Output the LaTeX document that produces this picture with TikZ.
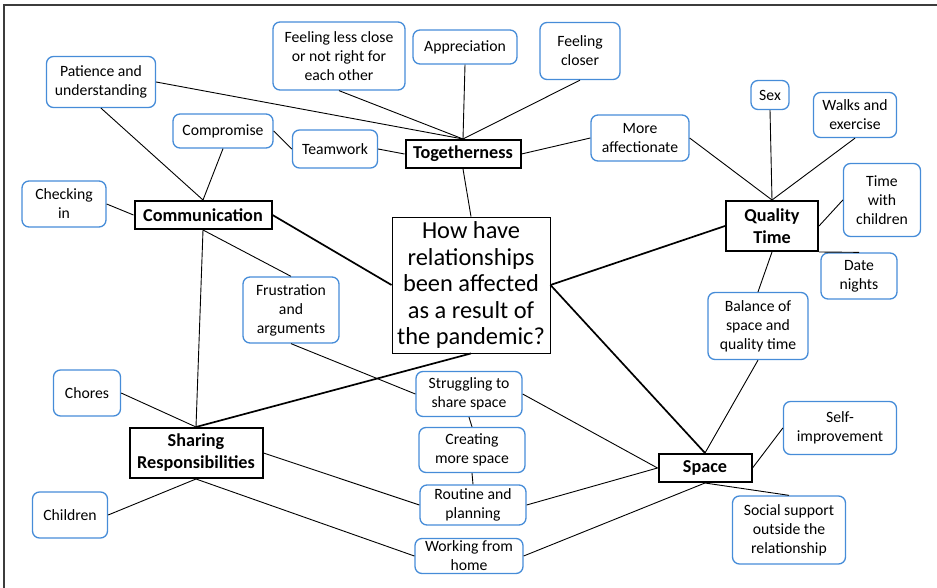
\documentclass[tikz,border=0pt]{standalone}
\usepackage{fontspec}
\setmainfont{Carlito}
\definecolor{boxblue}{RGB}{70,140,216}
\definecolor{framegray}{RGB}{60,60,60}

\begin{document}
\begin{tikzpicture}[x=1pt,y=-1pt,
  idea/.style={draw=boxblue,line width=1.3pt,rounded corners=7pt,align=center,inner sep=0pt,font=\fontsize{15.7}{19}\selectfont},
  theme/.style={draw=black,line width=2pt,align=center,inner sep=0pt,font=\fontsize{18.2}{22}\selectfont\bfseries},
  question/.style={draw=black,line width=0.9pt,align=center,inner sep=0pt,font=\fontsize{24.4}{26.5}\selectfont},
  branch/.style={line width=0.9pt},
  trunk/.style={line width=1.7pt}]
\useasboundingbox (0,0) rectangle (937,588);
\draw[framegray,line width=1.2pt] (937,5) -- (4,5) -- (4,588);

% the question in the middle
\node[question,minimum width=158pt,minimum height=136pt] (question) at (471,285)
  {How have\\relationships\\been affected\\as a result of\\the pandemic?};

% themes
\node[theme,minimum width=115pt,minimum height=28pt] (together) at (463,154) {Togetherness};
\node[theme,minimum width=137pt,minimum height=28pt] (comm) at (203,215) {Communication};
\node[theme,minimum width=92pt,minimum height=50pt] (quality) at (772,226) {Quality\\Time};
\node[theme,minimum width=133pt,minimum height=50pt] (sharing) at (196,453) {Sharing\\Responsibilities};
\node[theme,minimum width=93pt,minimum height=28pt] (space) at (705,468) {Space};

% ideas
\node[idea,minimum width=109pt,minimum height=51pt] (patience) at (101,82) {Patience and\\understanding};
\node[idea,minimum width=132pt,minimum height=68pt] (lessclose) at (339,56) {Feeling less close\\or not right for\\each other};
\node[idea,minimum width=104pt,minimum height=34pt] (appreciation) at (465,47) {Appreciation};
\node[idea,minimum width=80pt,minimum height=57pt] (closer) at (580,51) {Feeling\\closer};
\node[idea,minimum width=100pt,minimum height=34pt] (compromise) at (223,131) {Compromise};
\node[idea,minimum width=85pt,minimum height=38pt] (teamwork) at (335,149) {Teamwork};
\node[idea,minimum width=98pt,minimum height=46pt] (affectionate) at (640,138) {More\\affectionate};
\node[idea,minimum width=38pt,minimum height=29pt] (sex) at (770,95) {Sex};
\node[idea,minimum width=83pt,minimum height=45pt] (walks) at (855,115) {Walks and\\exercise};
\node[idea,minimum width=77pt,minimum height=73pt] (withchildren) at (882,200) {Time\\with\\children};
\node[idea,minimum width=76pt,minimum height=46pt] (datenights) at (859,276) {Date\\nights};
\node[idea,minimum width=84pt,minimum height=46pt] (checking) at (64,204) {Checking\\in};
\node[idea,minimum width=96pt,minimum height=66pt] (frustration) at (291,310) {Frustration\\and\\arguments};
\node[idea,minimum width=100pt,minimum height=67pt] (balance) at (758,326) {Balance of\\space and\\quality time};
\node[idea,minimum width=67pt,minimum height=46pt] (chores) at (87,393) {Chores};
\node[idea,minimum width=75pt,minimum height=46pt] (children) at (70,515) {Children};
\node[idea,minimum width=106pt,minimum height=45pt] (struggling) at (469,394) {Struggling to\\share space};
\node[idea,minimum width=106pt,minimum height=45pt] (creating) at (472,450) {Creating\\more space};
\node[idea,minimum width=106pt,minimum height=40pt] (routine) at (473,505) {Routine and\\planning};
\node[idea,minimum width=108pt,minimum height=35pt] (working) at (469,556) {Working from\\home};
\node[idea,minimum width=113pt,minimum height=53pt] (selfimp) at (840,428) {Self-\\improvement};
\node[idea,minimum width=113pt,minimum height=68pt] (social) at (789,530) {Social support\\outside the\\relationship};

% question to themes
\draw[branch] (together.south) -- (question.north);
\draw[trunk] (comm.east) -- (question.west);
\draw[trunk] (quality.west) -- (question.east);
\draw[trunk] (question.east) -- (space.north);
\draw[trunk] (question.south) -- (sharing.north);

% togetherness
\draw[branch] (together.north) -- (patience.east);
\draw[branch] (together.north) -- (lessclose.south);
\draw[branch] (together.north) -- (appreciation.south);
\draw[branch] (together.north) -- (closer.south);
\draw[branch] (teamwork.east) -- (together.west);
\draw[branch] (together.east) -- (affectionate.west);

% communication
\draw[branch] (comm.north) -- (patience.south);
\draw[branch] (comm.north) -- (compromise.south);
\draw[branch] (compromise.east) -- (teamwork.west);
\draw[branch] (checking.east) -- (comm.west);
\draw[branch] (comm.south) -- (frustration.north);
\draw[branch] (comm.south) -- (sharing.north);

% quality time
\draw[branch] (quality.north) -- (affectionate.east);
\draw[branch] (quality.north) -- (sex.south);
\draw[branch] (quality.north) -- (walks.south);
\draw[branch] (quality.east) -- (withchildren.west);
\draw[branch] (quality.south east) -- (datenights.north);
\draw[branch] (quality.south) -- (balance.north);

% sharing responsibilities
\draw[branch] (chores.east) -- (sharing.north);
\draw[branch] (children.east) -- (sharing.south);
\draw[branch] (sharing.east) -- (routine.west);
\draw[branch] (sharing.south) -- (working.west);

% space
\draw[branch] (frustration.south) -- (struggling.west);
\draw[branch] (struggling.south) -- (creating.north);
\draw[branch] (creating.south) -- (routine.north);
\draw[branch] (struggling.east) -- (space.west);
\draw[branch] (routine.east) -- (space.west);
\draw[branch] (space.south) -- (working.east);
\draw[branch] (balance.south) -- (space.north);
\draw[branch] (space.east) -- (selfimp.west);
\draw[branch] (space.south) -- (social.north);
\end{tikzpicture}
\end{document}
